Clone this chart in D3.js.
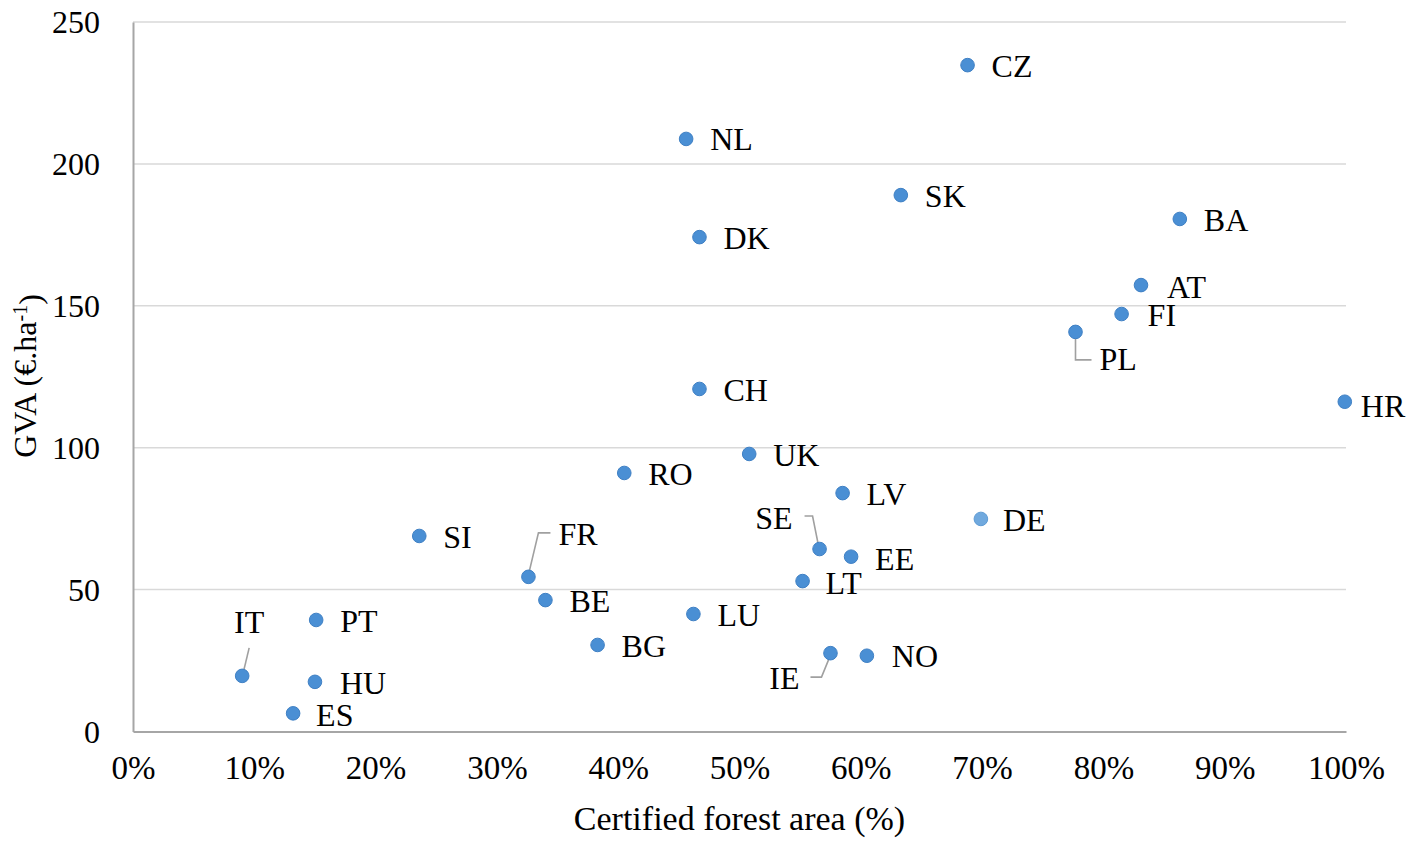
<!DOCTYPE html>
<html>
<head>
<meta charset="utf-8">
<script src="https://cdn.jsdelivr.net/npm/d3@7"></script>
<style>
  body { margin: 0; background: #fff; }
  text { font-family: "Liberation Serif", "Times New Roman", serif; fill: #000; }
</style>
</head>
<body>
<div id="chart"></div>
<script>
// data
var countries = ["CZ","NL","SK","BA","DK","AT","FI","PL","CH","HR","UK","RO","LV","DE","SI",
                 "SE","EE","FR","LT","BE","LU","PT","BG","IE","NO","IT","HU","ES"];
var certified = [0.688,0.456,0.633,0.863,0.467,0.831,0.815,0.777,0.467,0.999,0.508,0.405,0.585,0.699,0.236,
                 0.566,0.592,0.326,0.552,0.340,0.462,0.151,0.383,0.575,0.605,0.090,0.150,0.132];
var gva = [234.8,208.8,189.0,180.6,174.2,157.3,147.1,140.8,120.7,116.2,97.8,91.1,84.0,74.9,68.9,
           64.3,61.6,54.5,53.0,46.3,41.4,39.3,30.5,27.6,26.7,19.6,17.5,6.4];
var yTicks = [0, 50, 100, 150, 200, 250];
var xTicks = [0,0.1,0.2,0.3,0.4,0.5,0.6,0.7,0.8,0.9,1];

// label placement relative to the point (layout only)
var labelPos = {
  PL: {dx: 24, dy: 28, leader: [[0,0],[0,28],[16,28]]},
  SE: {dx: -27, dy: -31, anchor: "end", leader: [[-15,-33],[-7,-33],[-1,-3]]},
  IE: {dx: -31, dy: 25, anchor: "end", leader: [[-20,24],[-9,24],[0,2]]},
  FR: {dx: 30, dy: -42, leader: [[0,-2],[10,-44],[22,-44]]},
  IT: {dx: 7, dy: -53, anchor: "middle", leader: [[1,-3],[7,-28]]},
  HR: {dx: 16, dy: 5},
  AT: {dx: 26, dy: 2},
  FI: {dx: 26, dy: 1},
  EE: {dx: 24, dy: 3},
  LT: {dx: 23, dy: 2},
  NO: {dx: 25, dy: 1},
  ES: {dx: 23, dy: 2},
  HU: {dx: 25, dy: 2},
  DE: {dx: 22, dy: 2}
};

var svgWidth = 1418, svgHeight = 847;
var margin = {top: 22, right: 72, bottom: 115.5, left: 133};
var width = svgWidth - margin.left - margin.right;
var height = svgHeight - margin.top - margin.bottom;

var svg = d3.select("#chart").append("svg")
    .attr("width", svgWidth)
    .attr("height", svgHeight);

var chartGroup = svg.append("g")
    .attr("transform", `translate(${margin.left}, ${margin.top})`);

var xScale = d3.scaleLinear().domain([0, 1]).range([0, width]);
var yScale = d3.scaleLinear().domain([0, 250]).range([height, 0]);

// horizontal gridlines
chartGroup.append("g")
    .selectAll("line")
    .data(yTicks.filter(d => d > 0))
    .enter()
    .append("line")
    .attr("x1", 0)
    .attr("x2", width)
    .attr("y1", d => yScale(d))
    .attr("y2", d => yScale(d))
    .attr("stroke", "#d9d9d9")
    .attr("stroke-width", 1.5);

// y axis
var leftAxis = d3.axisLeft(yScale).tickValues(yTicks).tickSize(0).tickPadding(33);
var yAxis = chartGroup.append("g").call(leftAxis);
yAxis.select(".domain").attr("stroke", "#a6a6a6").attr("stroke-width", 2);
yAxis.selectAll("text")
    .style("font-family", "Liberation Serif")
    .style("font-size", "32px")
    .attr("dy", "0.33em");

// x axis
var bottomAxis = d3.axisBottom(xScale).tickValues(xTicks).tickSize(0).tickPadding(28)
    .tickFormat(d3.format(".0%"));
var xAxis = chartGroup.append("g")
    .attr("transform", `translate(0, ${height})`)
    .call(bottomAxis);
xAxis.select(".domain").attr("stroke", "#a6a6a6").attr("stroke-width", 2);
xAxis.selectAll("text")
    .style("font-family", "Liberation Serif")
    .style("font-size", "33px")
    .attr("dy", "0.6em");

// axis titles
chartGroup.append("text")
    .attr("x", 739.5 - margin.left)
    .attr("y", height + 98)
    .attr("text-anchor", "middle")
    .style("font-size", "34px")
    .text("Certified forest area (%)");

var yTitle = chartGroup.append("text")
    .attr("transform", `translate(${36 - margin.left}, ${376 - margin.top}) rotate(-90)`)
    .attr("text-anchor", "middle")
    .style("font-size", "32px");
yTitle.append("tspan").text("GVA (€.ha");
yTitle.append("tspan").attr("dy", "-0.45em").style("font-size", "20px").text("-1");
yTitle.append("tspan").attr("dy", "0.45em").text(")");

// rows for each country
var rows = countries.map((c, i) => ({abbr: c, x: certified[i], y: gva[i]}));

// leader lines
chartGroup.append("g")
    .selectAll("path")
    .data(rows.filter(d => labelPos[d.abbr] && labelPos[d.abbr].leader))
    .enter()
    .append("path")
    .attr("d", d => {
        var px = xScale(d.x), py = yScale(d.y);
        return d3.line()(labelPos[d.abbr].leader.map(p => [px + p[0], py + p[1]]));
    })
    .attr("fill", "none")
    .attr("stroke", "#a0a0a0")
    .attr("stroke-width", 1.6);

// points
chartGroup.append("g")
    .selectAll("circle")
    .data(rows)
    .enter()
    .append("circle")
    .attr("cx", d => xScale(d.x))
    .attr("cy", d => yScale(d.y))
    .attr("r", 6.8)
    .attr("fill", d => d.abbr === "DE" ? "#70a9de" : "#4a8fd4")
    .attr("stroke", d => d.abbr === "DE" ? "#5e9bd4" : "#3f80c4")
    .attr("stroke-width", 1);

// labels
chartGroup.append("g")
    .selectAll("text")
    .data(rows)
    .enter()
    .append("text")
    .attr("x", d => xScale(d.x) + (labelPos[d.abbr] ? labelPos[d.abbr].dx : 24))
    .attr("y", d => yScale(d.y) + (labelPos[d.abbr] ? labelPos[d.abbr].dy : 1))
    .attr("dy", "0.33em")
    .attr("text-anchor", d => (labelPos[d.abbr] && labelPos[d.abbr].anchor) || "start")
    .style("font-size", "32px")
    .text(d => d.abbr);
</script>
</body>
</html>
